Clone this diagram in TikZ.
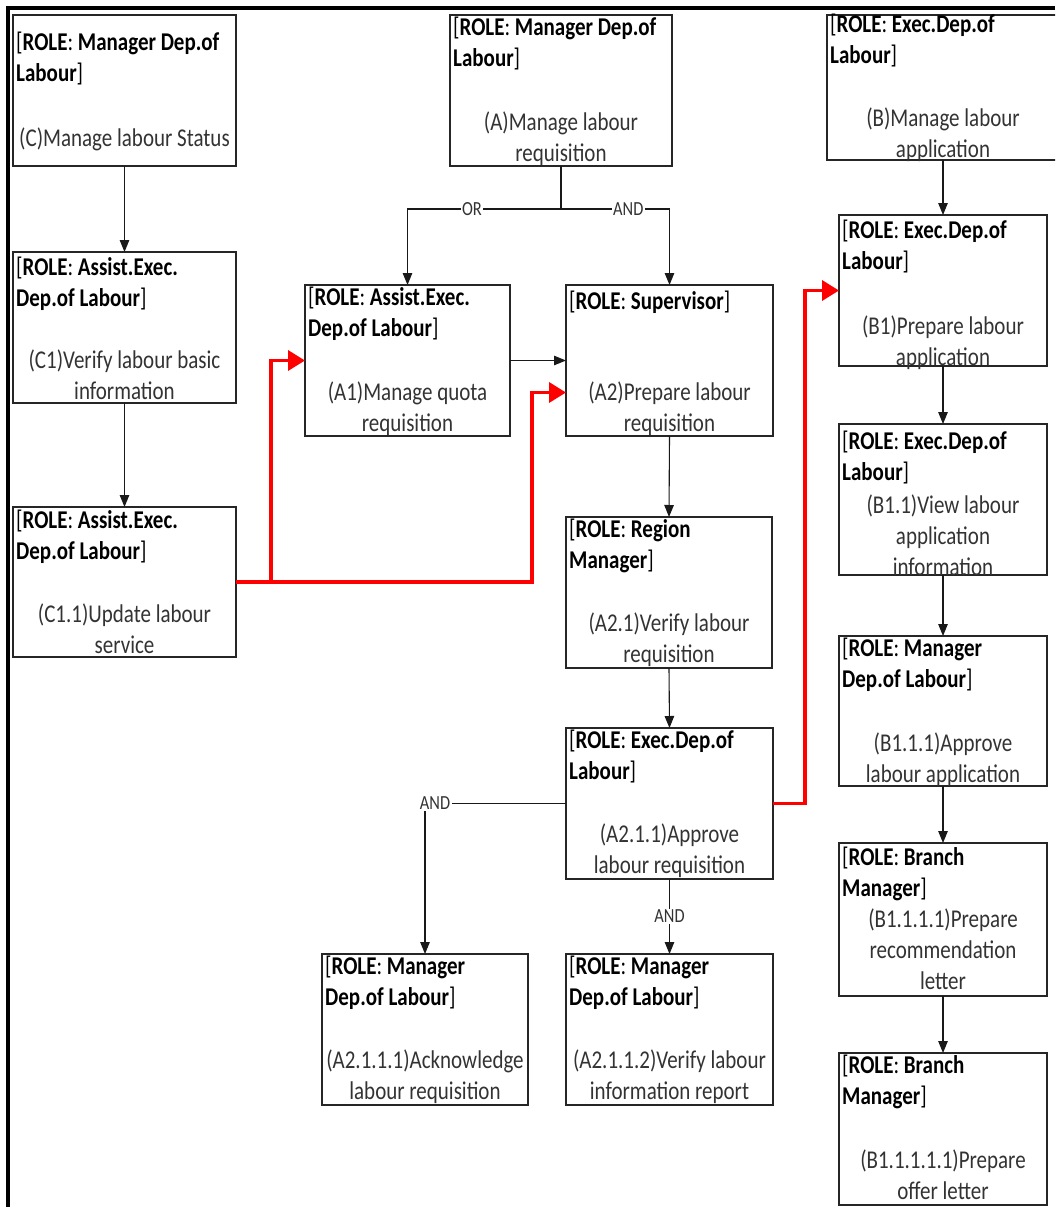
\documentclass[tikz,border=0pt]{standalone}
\usepackage{fontspec}
\setmainfont{Carlito}[FakeStretch=0.82]
\usetikzlibrary{arrows.meta,calc}
\newcommand\rl[2]{[\textbf{ROLE}: \textbf{#1}\\\textbf{#2}]}
\newcommand\pb[9]{%
  \node[pbox, anchor=north west, minimum width=#4pt, minimum height=#5pt] (#1) at (#2,#3) {};
  \node[roletxt, anchor=north west] (#1r) at (#2+3,#6+4) {#7};
  \node[desctxt, anchor=north] (#1d) at (#1.north |- 0,#8+4) {#9};
}
\begin{document}
\begin{tikzpicture}[x=1pt,y=-1pt,
  pbox/.style={draw=black!85, line width=1.1pt, inner sep=0pt, outer sep=0pt},
  roletxt/.style={inner sep=0pt, align=left, text=black, font=\fontsize{25.6pt}{31pt}\selectfont, execute at begin node=\rule{0pt}{22pt}},
  desctxt/.style={inner sep=0pt, align=center, text=black!80, font=\fontsize{25.6pt}{31pt}\selectfont, execute at begin node=\rule{0pt}{22pt}},
  conn/.style={draw=black!90, line width=1.1pt, -{Triangle[length=12pt,width=9.5pt]}},
  redarrow/.style={draw=red, line width=3.5pt, -{Triangle[length=17pt,width=20pt]}},
  lbl/.style={fill=white, inner sep=1.5pt, text=black!80, font=\fontsize{20pt}{24pt}\selectfont}]
\useasboundingbox (0,0) rectangle (1055,1207);
\clip (0,0) rectangle (1055,1207);
\fill[white] (0,0) rectangle (1055,1207);
% frame
\draw[line width=4pt] (8,1207) -- (8,8) -- (1055,8);
% boxes
\pb{C}{13}{15}{223}{151}{28}{\rl{Manager Dep.of}{Labour}}{120}{(C)Manage labour Status}
\pb{C1}{13}{252}{223}{151}{253}{\rl{Assist.Exec.}{Dep.of Labour}}{346}{(C1)Verify labour basic\\information}
\pb{C11}{13}{507}{223}{150}{506}{\rl{Assist.Exec.}{Dep.of Labour}}{600}{(C1.1)Update labour\\service}
\pb{A}{450}{15}{222}{151}{13}{\rl{Manager Dep.of}{Labour}}{108}{(A)Manage labour\\requisition}
\pb{B}{827}{15}{232}{145}{10}{\rl{Exec.Dep.of}{Labour}}{104}{(B)Manage labour\\application}
\pb{A1}{305}{285}{205}{151}{283}{\rl{Assist.Exec.}{Dep.of Labour}}{378}{(A1)Manage quota\\requisition}
\pb{A2}{566}{285}{207}{151}{283}{[\textbf{ROLE}: \textbf{Supervisor}]}{378}{(A2)Prepare labour\\requisition}
\pb{B1}{839}{215}{208}{151}{216}{\rl{Exec.Dep.of}{Labour}}{312}{(B1)Prepare labour\\application}
\pb{B11}{839}{424}{208}{151}{427}{\rl{Exec.Dep.of}{Labour}}{491}{(B1.1)View labour\\application\\information}
\pb{A21}{566}{517}{206}{151}{515}{\rl{Region}{Manager}}{609}{(A2.1)Verify labour\\requisition}
\pb{B111}{839}{636}{208}{150}{634}{\rl{Manager}{Dep.of Labour}}{729}{(B1.1.1)Approve\\labour application}
\pb{A211}{566}{728}{207}{151}{726}{\rl{Exec.Dep.of}{Labour}}{820}{(A2.1.1)Approve\\labour requisition}
\pb{B1111}{839}{843}{208}{153}{843}{\rl{Branch}{Manager}}{905}{(B1.1.1.1)Prepare\\recommendation\\letter}
\pb{A2111}{322}{954}{206}{151}{952}{\rl{Manager}{Dep.of Labour}}{1046}{(A2.1.1.1)Acknowledge\\labour requisition}
\pb{A2112}{566}{954}{207}{151}{952}{\rl{Manager}{Dep.of Labour}}{1046}{(A2.1.1.2)Verify labour\\information report}
\pb{B11111}{839}{1053}{208}{152}{1051}{\rl{Branch}{Manager}}{1146}{(B1.1.1.1.1)Prepare\\offer letter}
% black connectors
\draw[conn] (C.south) -- (C1.north);
\draw[conn] (C1.south) -- (C11.north);
\coordinate (j) at (A.south |- 0,209);
\draw[conn, -] (A.south) -- (j);
\draw[conn] (j) -- node[lbl, pos=0.58] {OR} (A1.north |- j) -- (A1.north);
\draw[conn] (j) -- node[lbl, pos=0.62] {AND} (A2.north |- j) -- (A2.north);
\draw[conn] (A1.east) -- (A2.west);
\draw[conn] (A2.south) -- (A21.north);
\draw[conn] (A21.south) -- (A211.north);
\draw[conn] (A211.south) -- node[lbl] {AND} (A2112.north);
\draw[conn] (A211.west) -- (A2111.north |- A211.west) node[lbl, xshift=10pt] {AND} -- (A2111.north);
\draw[conn] (B.south) -- (B1.north);
\draw[conn] (B1.south) -- (B11.north);
\draw[conn] (B11.south) -- (B111.north);
\draw[conn] (B111.south) -- (B1111.north);
\draw[conn] (B1111.south) -- (B11111.north);
% red connectors
\draw[redarrow] (C11.east) -- ++(35,0) |- (A1.west);
\draw[redarrow] (C11.east) -- ++(296,0) |- ([yshift=-32pt]A2.west);
\draw[redarrow] (A211.east) -- ++(32,0) |- (B1.west);
\end{tikzpicture}
\end{document}
